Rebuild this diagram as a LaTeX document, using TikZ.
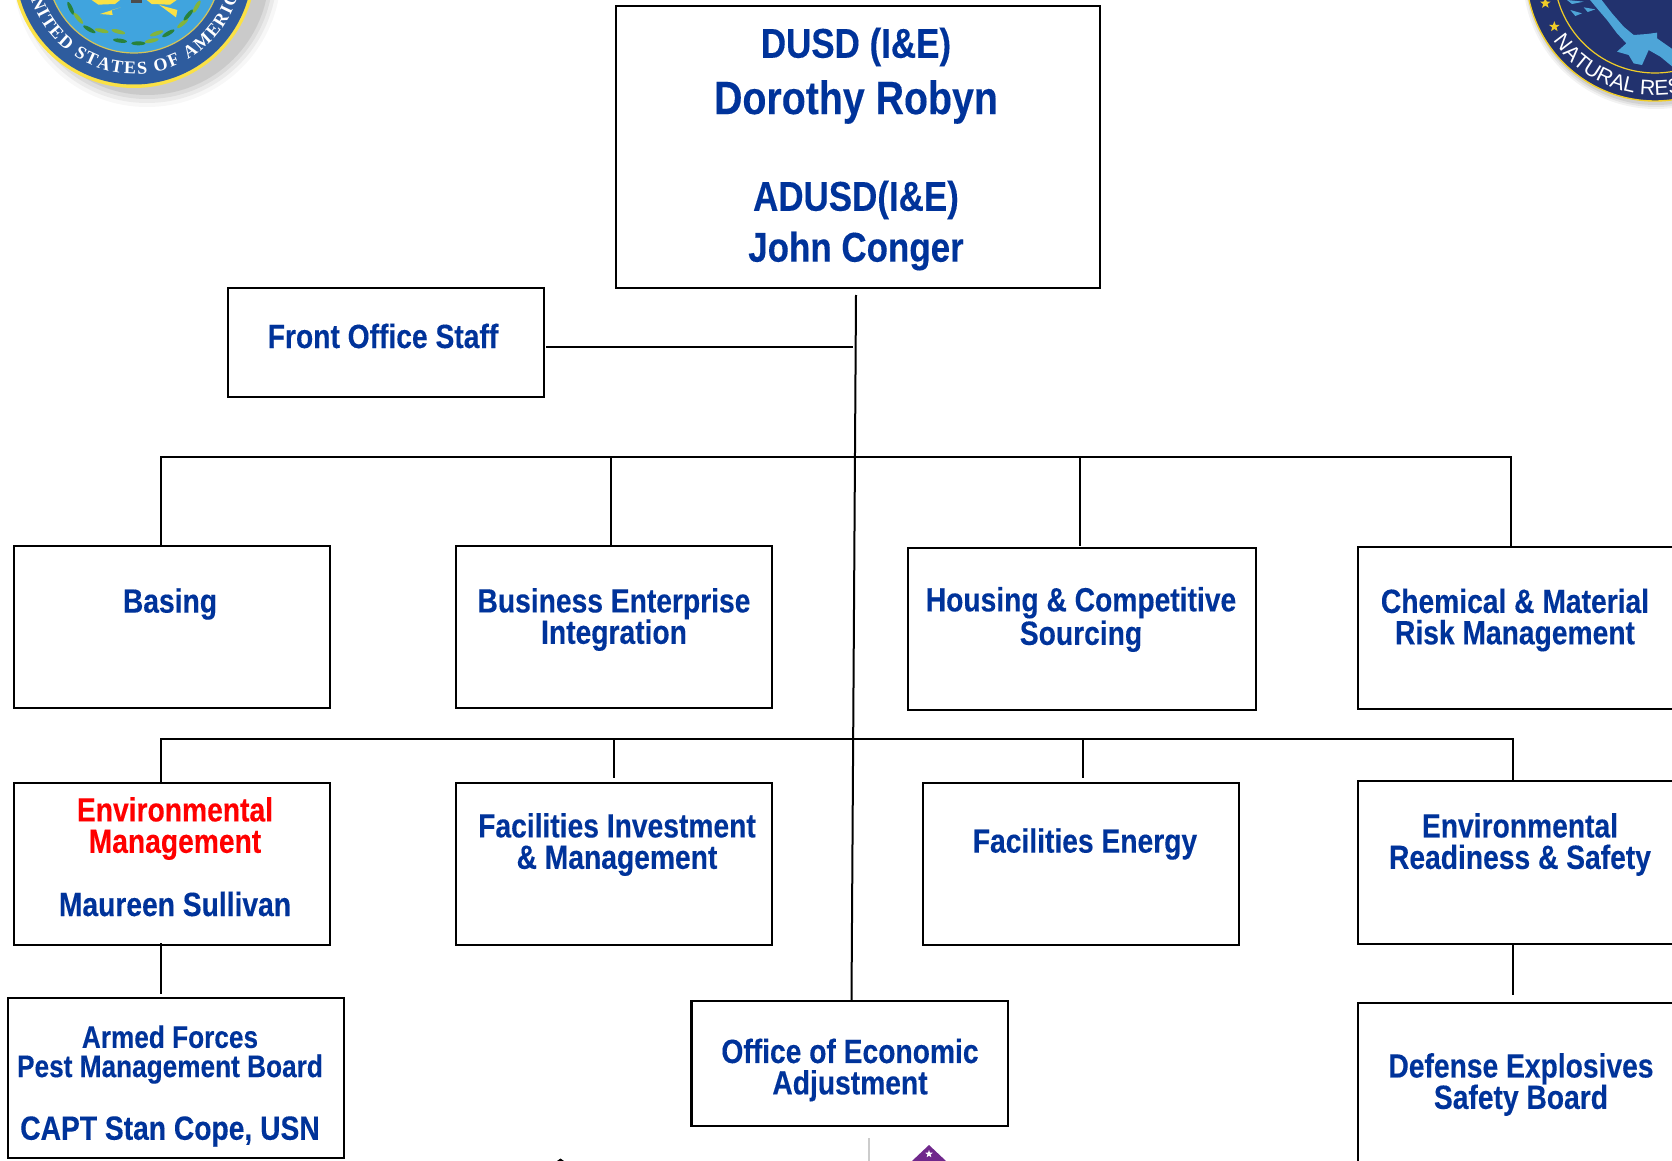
\documentclass[tikz,border=0pt]{standalone}
\usepackage{fontspec}
\setmainfont{Liberation Sans}
\newfontfamily\lab{Liberation Sans}[BoldFeatures={FakeStretch=0.84,FakeBold=0.25}]
\newfontfamily\sealserif{Liberation Serif}
\usetikzlibrary{decorations.text,shapes.geometric}
\definecolor{navytext}{HTML}{00339A}
\definecolor{dodband}{RGB}{46,92,158}
\definecolor{dodsky}{RGB}{64,164,222}
\definecolor{dodgold}{RGB}{250,225,70}
\definecolor{nrnavy}{RGB}{34,50,110}
\definecolor{nrgold}{RGB}{240,205,40}
\definecolor{nrblue}{RGB}{78,165,216}
\definecolor{leafa}{RGB}{40,130,60}
\definecolor{leafb}{RGB}{130,180,60}
\tikzset{
  x=0.5pt,y=-0.5pt,
  box/.style={draw=black,line width=1.1pt,fill=white,rectangle,inner sep=0pt,outer sep=0pt,anchor=north west},
  txt/.style={font=\lab\bfseries\fontsize{16.8}{15.7}\selectfont,text=navytext,align=center,inner sep=0pt},
  conn/.style={draw=black,line width=1pt},
  leaf/.style={fill=#1,draw=none,ellipse,minimum width=7pt,minimum height=2pt,inner sep=0pt},
  sealstar/.style={star,star points=5,star point ratio=2.4,inner sep=0pt,fill=#1},
}
\newcommand{\mybox}[5]{\node[box,minimum width=#4*0.5pt-#2*0.5pt,minimum height=#5*0.5pt-#3*0.5pt] (#1) at (#2,#3) {};}
\begin{document}
\begin{tikzpicture}
\useasboundingbox (0,0) rectangle (1672,1161);
\clip (0,0) rectangle (1672,1161);
\fill[white] (0,0) rectangle (1672,1161);
% DoD seal
\foreach \r/\o in {134/.03,130/.05,126/.06,122/.08}{\fill[black,opacity=\o] (147,-27) circle[radius=\r];}
\fill[dodgold] (134,-34) circle[radius=122];
\fill[dodband] (134,-34) circle[radius=118.5];
\fill[fill=dodsky,draw=dodgold!70!gray,line width=.6pt] (134,-34) circle[radius=87];
\path[postaction={decorate,decoration={text along path,text align={fit to path},
  text={|\sealserif\bfseries\fontsize{9}{10}\selectfont\color{white}|UNITED   STATES   OF   AMERICA}}}]
  (134,-34) ++(170:108) arc[start angle=170,end angle=8,radius=108];
% DoD wreath and arrows, in 3x crop coordinates
\begin{scope}[x=0.1667pt,y=-0.1667pt]
\foreach \a/\b/\c/\col in {212/25/-65/leafa,235/55/-50/leafb,268/88/-30/leafa,305/92/-12/leafb,355/95/-15/leafb,360/122/-8/leafa,415/130/0/leafa,455/122/12/leafb,470/100/20/leafb,505/100/30/leafa,548/70/40/leafb,565/45/50/leafa,590/20/60/leafb}
  {\node[leaf=\col,rotate=\c] at (\a,\b) {};}
\fill[dodgold] (300,42) -- (362,22) -- (335,30) -- (338,45) -- cycle;
\fill[dodgold] (275,0) -- (360,0) -- (345,12) -- (295,14) -- cycle;
\fill[dodgold] (478,15) -- (532,30) -- (528,52) -- cycle;
\fill[dodgold] (440,0) -- (530,0) -- (510,14) -- (455,12) -- cycle;
\fill[black!70] (392,0) rectangle (425,8);
\end{scope}
% Natural resources seal
\foreach \r/\o in {133/.05,131/.06,129/.08}{\fill[black,opacity=\o] (1656,-24) circle[radius=\r];}
\fill[fill=nrnavy,draw=nrgold,line width=.7pt] (1655,-28) circle[radius=129];
\draw[draw=nrgold,line width=.6pt] (1655,-28) circle[radius=101];
\path[postaction={decorate,decoration={text along path,text align=left,
  text={|\fontsize{10.6}{12}\selectfont\color{white}|NATURAL   RESOURCES}}}]
  (1655,-28) ++(146:123) arc[start angle=146,end angle=40,radius=123];
\begin{scope}[x=0.1667pt,y=-0.1667pt,shift={(4500,0)}]
\fill[nrblue] (300,-5) -- (335,40) -- (370,80) -- (400,105) -- (440,102) -- (470,98) -- (470,115) -- (520,150) -- (520,203) -- (480,170) -- (445,150) -- (425,195) -- (400,190) -- (385,165) -- (350,155) -- (378,130) -- (350,100) -- (320,60) -- (290,25) -- (265,-5) -- cycle;
\fill[nrblue] (210,30) -- (245,40) -- (225,48) -- cycle (250,22) -- (285,28) -- (262,36) -- cycle (200,0) -- (250,5) -- (215,12) -- cycle;
\node[sealstar=nrgold,minimum size=5.5pt] at (135,10) {};
\node[sealstar=nrgold,minimum size=5.5pt] at (162,80) {};
\end{scope}
% bottom fragments
\draw[draw=black!20,line width=1pt] (869,1138) -- (869,1161);
\fill[fill={rgb,255:red,112;green,40;blue,140}] (929,1145) -- (946,1161) -- (912,1161) -- cycle;
\node[sealstar=white,minimum size=4pt] at (929,1154) {};
\fill[black] (560.5,1158.5) -- (564,1161) -- (557,1161) -- cycle;
% boxes
\mybox{top}{616}{6}{1100}{288}
\mybox{front}{228}{288}{544}{397}
\mybox{basing}{14}{546}{330}{708}
\mybox{bei}{456}{546}{772}{708}
\mybox{housing}{908}{548}{1256}{710}
\mybox{chem}{1358}{547}{1690}{709}
\mybox{env}{14}{783}{330}{945}
\mybox{fim}{456}{783}{772}{945}
\mybox{energy}{923}{783}{1239}{945}
\mybox{ers}{1358}{781}{1690}{944}
\mybox{pest}{8}{998}{344}{1158}
\mybox{oea}{691.5}{1001}{1008}{1126}
\mybox{ddesb}{1358}{1003}{1690}{1200}
% junctions
\coordinate (trunkT) at (856,295);
\coordinate (trunkB) at (851.5,1000);
\coordinate (b1L) at (160,457);
\coordinate (b1R) at (1512,457);
\coordinate (b2L) at (160,739);
\coordinate (b2R) at (1514,739);
\coordinate (fo) at (546,347);
\coordinate (foe) at (853,347);
\draw[conn] (trunkT) -- (trunkB);
\draw[conn] (fo) -- (foe);
\draw[conn] (b1L) -- (b1R);
\draw[conn] (b2L) -- (b2R);
\draw[conn] (161,457) -- (161,546);
\draw[conn] (611,457) -- (611,546);
\draw[conn] (1080,457) -- (1080,546);
\draw[conn] (1511,457) -- (1511,546);
\draw[conn] (161,739) -- (161,783);
\draw[conn] (614,739) -- (614,778);
\draw[conn] (1083,739) -- (1083,778);
\draw[conn] (1513,739) -- (1513,781);
\draw[conn] (161,943) -- (161,994);
\draw[conn] (1513,944) -- (1513,995);
% labels
\node[txt,font=\lab\bfseries\fontsize{20.8}{20}\selectfont] (t1) at (856,47) {DUSD (I\&E)};
\node[txt,font=\lab\bfseries\fontsize{23.4}{23}\selectfont] (t2) at (856,102) {Dorothy Robyn};
\node[txt,font=\lab\bfseries\fontsize{20.8}{20}\selectfont] (t3) at (856,200) {ADUSD(I\&E)};
\node[txt,font=\lab\bfseries\fontsize{20.8}{20}\selectfont] (t4) at (856,251) {John Conger};
\node[txt] (lf) at (383,336) {Front Office Staff};
\node[txt] (l1) at (170,604) {Basing};
\node[txt] (l2) at (614,619.5) {Business Enterprise\\Integration};
\node[txt] (l3) at (1081,619.5) {Housing \& Competitive\\Sourcing};
\node[txt] (l4) at (1515,620) {Chemical \& Material\\Risk Management};
\node[txt,text=red] (l5a) at (175,828.5) {Environmental\\Management};
\node[txt] (l5b) at (175,904) {Maureen Sullivan};
\node[txt] (l6) at (617,844.5) {Facilities Investment\\\& Management};
\node[txt] (l7) at (1085,844) {Facilities Energy};
\node[txt] (l8) at (1520,844.5) {Environmental\\Readiness \& Safety};
\node[txt,font=\lab\bfseries\fontsize{15.6}{14.6}\selectfont] (l9) at (170,1054.5) {Armed Forces\\Pest Management Board};
\node[txt,font=\lab\bfseries\fontsize{16.8}{16}\selectfont] (l9b) at (170,1131.5) {CAPT Stan Cope, USN};
\node[txt] (l10) at (850,1070) {Office of Economic\\Adjustment};
\node[txt] (l11) at (1521,1084.5) {Defense Explosives\\Safety Board};
\end{tikzpicture}
\end{document}
